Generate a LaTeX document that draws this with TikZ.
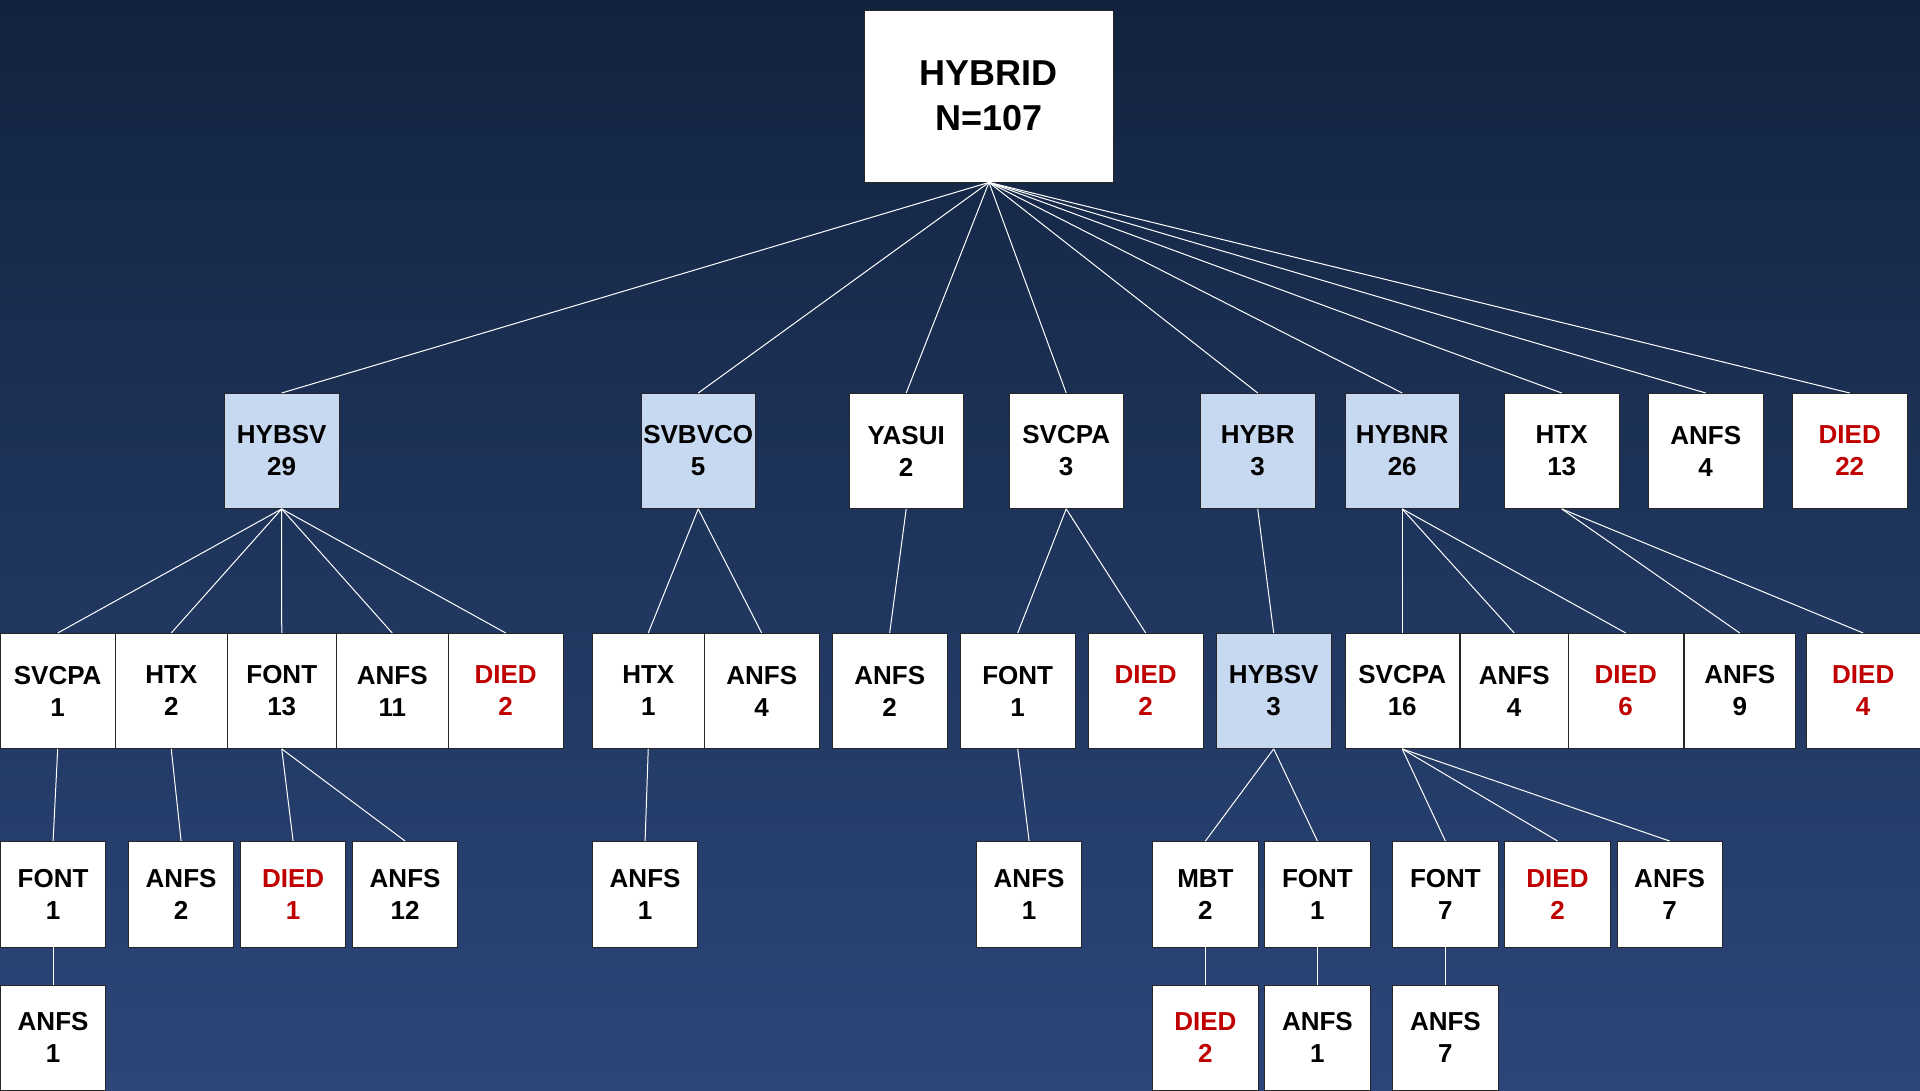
\documentclass[tikz,border=0pt]{standalone}
\usepackage{fontspec}
\setmainfont{Liberation Sans}
\definecolor{bgtop}{RGB}{18,35,63}
\definecolor{bgbot}{RGB}{44,70,121}
\definecolor{lblue}{RGB}{198,217,240}
\definecolor{dred}{RGB}{192,0,0}
\newcommand\redtxt[1]{\textcolor{dred}{#1}}
\tikzset{
  box/.style={draw=black!85, line width=0.9pt, fill=white, anchor=north west,
    align=center, font=\fontsize{26}{32}\selectfont\bfseries, inner sep=0pt,
    text=black},
  big/.style={box, minimum width=114.5pt, minimum height=115pt},
  sml/.style={box, minimum width=105.3pt, minimum height=105.5pt},
  hl/.style={fill=lblue},
  link/.style={draw=white, line width=1pt},
}
\begin{document}
\begin{tikzpicture}[x=1pt,y=-1pt]
\useasboundingbox (0,0) rectangle (1920,1090);
\clip (0,0) rectangle (1920,1090);
\shade[top color=bgtop, bottom color=bgbot] (0,0) rectangle (1920,1090);

% root
\node[box, minimum width=249pt, minimum height=172pt,
  font=\fontsize{36}{45}\selectfont\bfseries] (root) at (864,9.5) {HYBRID\\N=107};

% level 1
\node[big,hl] (a1) at (224,393)   {HYBSV\\29};
\node[big,hl] (a2) at (640.5,393) {SVBVCO\\5};
\node[big]    (a3) at (848.5,393) {YASUI\\2};
\node[big]    (a4) at (1008.5,393){SVCPA\\3};
\node[big,hl] (a5) at (1200,393)  {HYBR\\3};
\node[big,hl] (a6) at (1344.5,393){HYBNR\\26};
\node[big]    (a7) at (1504,393)  {HTX\\13};
\node[big]    (a8) at (1648,393)  {ANFS\\4};
\node[big]    (a9) at (1792,393)  {\redtxt{DIED}\\\redtxt{22}};

% level 2
\node[big]                    (b1)  at (0,633)     {SVCPA\\1};
\node[big,minimum width=111.6pt] (b2)  at (115,633)   {HTX\\2};
\node[big,minimum width=108.6pt] (b3)  at (227,633)   {FONT\\13};
\node[big,minimum width=111.6pt] (b4)  at (336,633)   {ANFS\\11};
\node[big]                    (b5)  at (448,633)   {\redtxt{DIED}\\\redtxt{2}};
\node[big,minimum width=111.6pt] (b6)  at (592,633)   {HTX\\1};
\node[big]                    (b7)  at (704,633)   {ANFS\\4};
\node[big]                    (b8)  at (832,633)   {ANFS\\2};
\node[big]                    (b9)  at (960,633)   {FONT\\1};
\node[big]                    (b10) at (1088,633)  {\redtxt{DIED}\\\redtxt{2}};
\node[big,hl]                 (b11) at (1216,633)  {HYBSV\\3};
\node[big]                    (b12) at (1344.5,633){SVCPA\\16};
\node[big,minimum width=108.5pt] (b13) at (1459.5,633){ANFS\\4};
\node[big]                    (b14) at (1568,633)  {\redtxt{DIED}\\\redtxt{6}};
\node[big,minimum width=110.6pt] (b15) at (1684,633)  {ANFS\\9};
\node[big]                    (b16) at (1805.5,633){\redtxt{DIED}\\\redtxt{4}};

% level 3
\node[sml] (c1)  at (0,841)      {FONT\\1};
\node[sml] (c2)  at (128,841)    {ANFS\\2};
\node[sml] (c3)  at (240,841)    {\redtxt{DIED}\\\redtxt{1}};
\node[sml] (c4)  at (352,841)    {ANFS\\12};
\node[sml] (c5)  at (592,841)    {ANFS\\1};
\node[sml] (c6)  at (976,841)    {ANFS\\1};
\node[sml] (c7)  at (1152.3,841) {MBT\\2};
\node[sml] (c8)  at (1264.3,841) {FONT\\1};
\node[sml] (c9)  at (1392.3,841) {FONT\\7};
\node[sml] (c10) at (1504.4,841) {\redtxt{DIED}\\\redtxt{2}};
\node[sml] (c11) at (1616.5,841) {ANFS\\7};

% level 4
\node[sml] (d1) at (0,984.7)      {ANFS\\1};
\node[sml] (d2) at (1152.3,984.7) {\redtxt{DIED}\\\redtxt{2}};
\node[sml] (d3) at (1264.3,984.7) {ANFS\\1};
\node[sml] (d4) at (1392.3,984.7) {ANFS\\7};

% connectors
\foreach \n in {a1,a2,a3,a4,a5,a6,a7,a8,a9}
  \draw[link] (root.south) -- (\n.north);
\foreach \n in {b1,b2,b3,b4,b5}
  \draw[link] (a1.south) -- (\n.north);
\foreach \n in {b6,b7}
  \draw[link] (a2.south) -- (\n.north);
\draw[link] (a3.south) -- (b8.north);
\foreach \n in {b9,b10}
  \draw[link] (a4.south) -- (\n.north);
\draw[link] (a5.south) -- (b11.north);
\foreach \n in {b12,b13,b14}
  \draw[link] (a6.south) -- (\n.north);
\foreach \n in {b15,b16}
  \draw[link] (a7.south) -- (\n.north);

\draw[link] (b1.south) -- (c1.north);
\draw[link] (b2.south) -- (c2.north);
\draw[link] (b3.south) -- (c3.north);
\draw[link] (b3.south) -- (c4.north);
\draw[link] (b6.south) -- (c5.north);
\draw[link] (b9.south) -- (c6.north);
\draw[link] (b11.south) -- (c7.north);
\draw[link] (b11.south) -- (c8.north);
\foreach \n in {c9,c10,c11}
  \draw[link] (b12.south) -- (\n.north);

\draw[link] (c1.south) -- (d1.north);
\draw[link] (c7.south) -- (d2.north);
\draw[link] (c8.south) -- (d3.north);
\draw[link] (c9.south) -- (d4.north);
\end{tikzpicture}
\end{document}
